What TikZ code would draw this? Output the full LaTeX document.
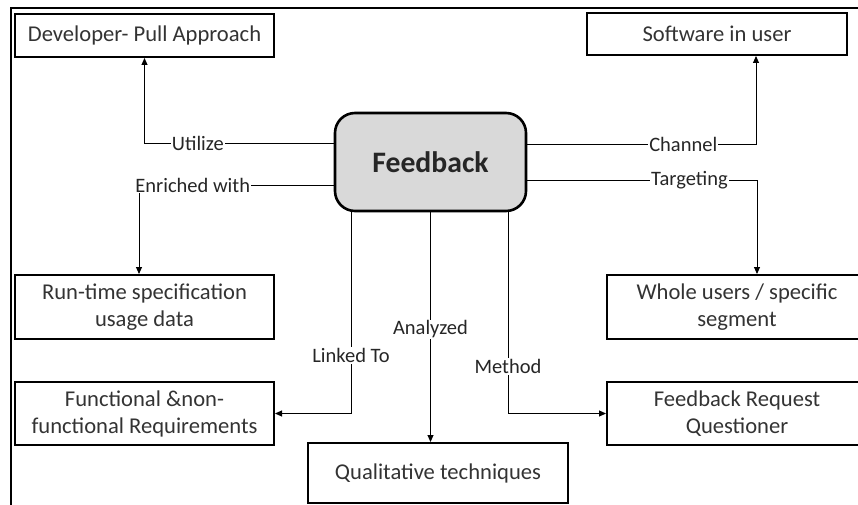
\documentclass[tikz,border=0pt]{standalone}
\usepackage{fontspec}
\setmainfont{Carlito}
\usetikzlibrary{arrows.meta}
\begin{document}
\begin{tikzpicture}[x = 1pt, y = -1pt,
		box/.style = {draw, line width = 2pt, minimum width = 260pt, align = center, text = black!80, font = \fontsize{22.6}{27}\selectfont},
		link/.style = {line width = 0.9pt, -{Triangle[length = 7pt, width = 6pt]}},
		lbl/.style = {fill = white, inner sep = 1pt, text = black!85, font = \fontsize{20.5}{24}\selectfont}]
			\useasboundingbox (0, 0) rectangle (858, 505);
			\draw[line width = 2.2pt] (11, 505) -- (11, 8) -- (858, 8);
			\node[box, minimum width = 259pt, minimum height = 43pt] (dev) at (144.5, 35.5) {Developer- Pull Approach};
			\node[box, minimum height = 42pt] (soft) at (717, 34) {Software in user};
			\node[box, minimum width = 259pt, minimum height = 64pt] (run) at (144.5, 307) {Run-time specification\\usage data};
			\node[box, minimum width = 259pt, minimum height = 63pt] (func) at (144.5, 413.5) {Functional \&non-\\functional Requirements};
			\node[box, minimum height = 60pt] (qual) at (438, 473) {Qualitative techniques};
			\node[box, minimum height = 64pt] (whole) at (737, 307) {Whole users / specific\\segment};
			\node[box, minimum height = 63pt] (req) at (737, 413.5) {Feedback Request\\Questioner};
			\node[draw, line width = 2.6pt, rounded corners = 20pt, fill = black!15, text = black!85, minimum width = 191pt, minimum height = 98pt, font = \fontsize{29.7}{34}\selectfont\bfseries] (feed) at (430.5, 162) {Feedback};
			\draw[link] ([yshift = 19pt]feed.west) -| node[lbl, pos = 0.359] {Utilize} (dev.south);
			\draw[link] ([yshift = -23pt]feed.west) -| node[lbl, pos = 0.362] {Enriched with} ([xshift = -5.5pt]run.north);
			\draw[link] ([yshift = 18pt]feed.east) -| node[lbl, pos = 0.341] {Channel} ([xshift = 39pt]soft.south);
			\draw[link] ([yshift = -18pt]feed.east) -| node[lbl, pos = 0.353] {Targeting} ([xshift = 20pt]whole.north);
			\draw[link] ([xshift = -79.5pt]feed.south) |- node[lbl, pos = 0.356] {Linked To} (func.east);
			\draw[link] (feed.south) -- node[lbl, pos = 0.51] {Analyzed} (feed.south |- qual.north);
			\draw[link] ([xshift = 77.5pt]feed.south) |- node[lbl, pos = 0.383] {Method} (req.west);
\end{tikzpicture}
\end{document}
